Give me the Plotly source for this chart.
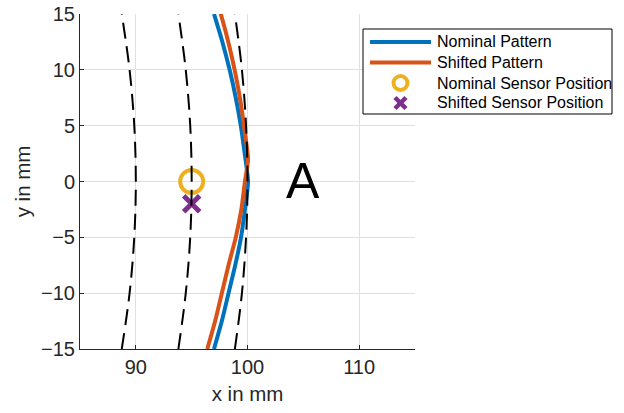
import plotly.graph_objects as go

# Nominal pattern
nominal_y = [-15, -12.5, -10, -7.5, -5, -2.5, 0, 2.5, 5, 7.5, 10, 12.5, 15]
nominal_x = [97.0, 97.7, 98.3, 98.9, 99.42, 99.77, 100.05, 99.75, 99.4, 98.95, 98.4, 97.75, 97.0]

# Shifted pattern
shifted_y = [-15, -12.5, -10, -7.5, -5, -2.5, 0, 2, 4.5, 7, 9.5, 12, 14.5, 17]
shifted_x = [96.4, 97.1, 97.7, 98.3, 98.95, 99.45, 99.77, 100.05, 99.75, 99.4, 98.95, 98.4, 97.75, 97.0]

# Nominal / shifted sensor positions
sensor_nom_x, sensor_nom_y = [95], [0]
sensor_shift_x, sensor_shift_y = [95], [-2]

# Dashed reference arcs
arc_y = [-15, -10, -5, 0, 5, 10, 15]
arc90_x = [88.74, 89.44, 89.86, 90.0, 89.86, 89.44, 88.74]
arc95_x = [93.81, 94.47, 94.87, 95.0, 94.87, 94.47, 93.81]
arc100_x = [98.87, 99.50, 99.87, 100.0, 99.87, 99.50, 98.87]

x_ticks = [90, 100, 110]
y_ticks = [-15, -10, -5, 0, 5, 10, 15]

legend_names = ["Nominal Pattern", "Shifted Pattern", "Nominal Sensor Position", "Shifted Sensor Position"]

BLUE = "#0072BD"
ORANGE = "#D95319"
YELLOW = "#EDB120"
PURPLE = "#7E2F8E"
AX = "#262626"
FONT = "Liberation Sans, Arial, sans-serif"

# figure geometry (pixels)
W, H = 624, 413
ML, MR, MT, MB = 80, 209, 14, 64
PW, PH = W - ML - MR, H - MT - MB


def px(xp):
    return (xp - ML) / PW


def py(yp):
    return (H - MB - yp) / PH


fig = go.Figure()
fig.add_trace(go.Scatter(x=nominal_x, y=nominal_y, mode="lines", name=legend_names[0],
                         line=dict(color=BLUE, width=4, shape="spline", smoothing=0.6)))
fig.add_trace(go.Scatter(x=shifted_x, y=shifted_y, mode="lines", name=legend_names[1],
                         line=dict(color=ORANGE, width=4, shape="spline", smoothing=0.6)))
fig.add_trace(go.Scatter(x=sensor_nom_x, y=sensor_nom_y, mode="markers", name=legend_names[2],
                         marker=dict(symbol="circle-open", size=23, color=YELLOW, line=dict(width=4, color=YELLOW))))
fig.add_trace(go.Scatter(x=sensor_shift_x, y=sensor_shift_y, mode="markers", name=legend_names[3],
                         marker=dict(symbol="x-thin-open", size=16, color=PURPLE, line=dict(width=5, color=PURPLE))))
for ax_ in (arc90_x, arc95_x, arc100_x):
    fig.add_trace(go.Scatter(x=ax_, y=arc_y, mode="lines", showlegend=False, hoverinfo="skip",
                             line=dict(color="black", width=2, dash="16px,8px", shape="spline")))

fig.add_annotation(x=105, y=0, text="A", showarrow=False, xref="x", yref="y",
                   font=dict(family=FONT, size=50, color="black"), yshift=1)

# ---- legend box drawn by hand (MATLAB style, compact rows) ----
shapes = []
box = dict(x0=363, x1=612, y0=29, y1=114)
shapes.append(dict(type="rect", xref="paper", yref="paper",
                   x0=px(box["x0"]), x1=px(box["x1"]), y0=py(box["y1"]), y1=py(box["y0"]),
                   line=dict(color="black", width=1), fillcolor="white", layer="above"))
row_y = [42, 62.5, 83, 103]
sym_x0, sym_x1, text_x = 370, 431, 435
# line samples
for ry, col in zip(row_y[:2], [BLUE, ORANGE]):
    shapes.append(dict(type="line", xref="paper", yref="paper", x0=px(sym_x0), x1=px(sym_x1),
                       y0=py(ry), y1=py(ry), line=dict(color=col, width=4), layer="above"))
# circle sample
cx, r = (sym_x0 + sym_x1) / 2, 7
shapes.append(dict(type="circle", xref="paper", yref="paper", x0=px(cx - r), x1=px(cx + r),
                   y0=py(row_y[2] + r), y1=py(row_y[2] - r), line=dict(color=YELLOW, width=4), layer="above"))
# x sample
d = 5.5
for s in (1, -1):
    shapes.append(dict(type="line", xref="paper", yref="paper", x0=px(cx - d), x1=px(cx + d),
                       y0=py(row_y[3] - s * d), y1=py(row_y[3] + s * d),
                       line=dict(color=PURPLE, width=4.5), layer="above"))
for ry, name in zip(row_y, legend_names):
    fig.add_annotation(x=px(text_x), y=py(ry), xref="paper", yref="paper", text=name,
                       showarrow=False, xanchor="left", yanchor="middle",
                       font=dict(family=FONT, size=16, color="black"))

axis_common = dict(showgrid=True, gridcolor="#e0e0e0", gridwidth=1, zeroline=False,
                   showline=True, linecolor=AX, linewidth=1, ticks="inside", ticklen=4,
                   tickcolor=AX, tickfont=dict(family=FONT, size=20, color=AX), mirror=False,
                   automargin=False)

fig.update_layout(
    width=W, height=H,
    margin=dict(l=ML, r=MR, t=MT, b=MB),
    paper_bgcolor="white", plot_bgcolor="white",
    font=dict(family=FONT, color=AX),
    xaxis=dict(range=[85, 115], tickvals=x_ticks,
               title=dict(text="x in mm", font=dict(family=FONT, size=20.5, color=AX), standoff=9),
               **axis_common),
    yaxis=dict(range=[-15, 15], tickvals=y_ticks,
               title=dict(text="y in mm", font=dict(family=FONT, size=20.5, color=AX), standoff=4),
               **axis_common),
    shapes=shapes,
    showlegend=False,
)

fig.write_html("out.html", config={"displayModeBar": False},
               post_script="document.body.style.margin='0px';")
